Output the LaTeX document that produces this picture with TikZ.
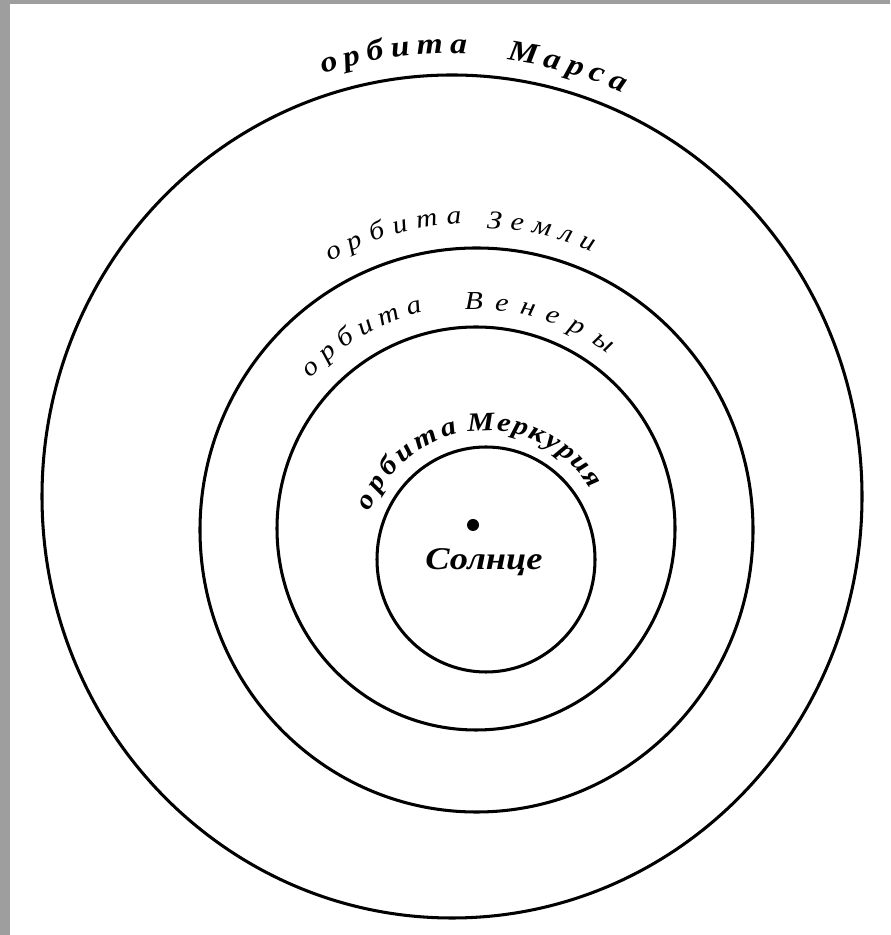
\documentclass[tikz,border=0pt]{standalone}
\usepackage{fontspec}
\setmainfont{Liberation Serif}[FakeStretch=1.15]
\usetikzlibrary{decorations.text}

\begin{document}
\begin{tikzpicture}[x=0.03cm,y=0.03cm,
 orbit/.style={line width=2.6pt},
 orbtext/.style={decorate,decoration={text along path,text align={fit to path}}}]
 % page and scan border
 \fill[black!38] (0,0) rectangle (890,935);
 \fill[white] (10,0) rectangle (890,931);
 \useasboundingbox (0,0) rectangle (890,935);
 \coordinate (mercury) at (486,375.5);
 \coordinate (venus) at (476,406.5);
 \coordinate (earth) at (476.5,405);
 \coordinate (mars) at (452,438.5);
 % orbits
 \draw[orbit] (mercury) ellipse[x radius=109,y radius=112.5];
 \draw[orbit] (venus) ellipse[x radius=199,y radius=201.5];
 \draw[orbit] (earth) ellipse[x radius=276.5,y radius=282];
 \draw[orbit] (mars) ellipse[x radius=410,y radius=421.5];
 % sun
 \fill (473,410) circle[radius=6];
 \node[font=\fontsize{27}{32}\selectfont\bfseries\itshape] (sun) at (484,373) {Солнце};
 % labels along the orbits
 \path[orbtext,decoration={text={|\fontsize{25}{30}\selectfont\bfseries\itshape|орбита}}]
  ([shift={(107.5:428 and 443)}]mars) arc[start angle=107.5,end angle=88,x radius=428,y radius=443];
 \path[orbtext,decoration={text={|\fontsize{25}{30}\selectfont\bfseries\itshape|Марса}}]
  ([shift={(82.6:428 and 440)}]mars) arc[start angle=82.6,end angle=66.5,x radius=428,y radius=440];
 \path[orbtext,decoration={text={|\fontsize{22}{26}\selectfont\itshape|орбита}}]
  ([shift={(119.2:300 and 307)}]earth) arc[start angle=119.2,end angle=92.8,x radius=300,y radius=307];
 \path[orbtext,decoration={text={|\fontsize{22}{26}\selectfont\itshape|Земли}}]
  ([shift={(88:298 and 302)}]earth) arc[start angle=88,end angle=67.2,x radius=298,y radius=302];
 \path[orbtext,decoration={text={|\fontsize{22}{26}\selectfont\itshape|орбита}}]
  ([shift={(137.8:223)}]venus) arc[start angle=137.8,end angle=103.8,radius=223];
 \path[orbtext,decoration={text={|\fontsize{22}{26}\selectfont\itshape|Венеры}}]
  ([shift={(92.9:219)}]venus) arc[start angle=92.9,end angle=53,radius=219];
 \path[orbtext,decoration={text={|\fontsize{22.5}{27}\selectfont\bfseries\itshape|орбита}}]
  ([shift={(158:125 and 129)}]mercury) arc[start angle=158,end angle=102.8,x radius=125,y radius=129];
 \path[orbtext,decoration={text={|\fontsize{22.5}{27}\selectfont\bfseries\itshape|Меркурия}}]
  ([shift={(98.4:125 and 129)}]mercury) arc[start angle=98.4,end angle=33,x radius=125,y radius=129];
\end{tikzpicture}
\end{document}
